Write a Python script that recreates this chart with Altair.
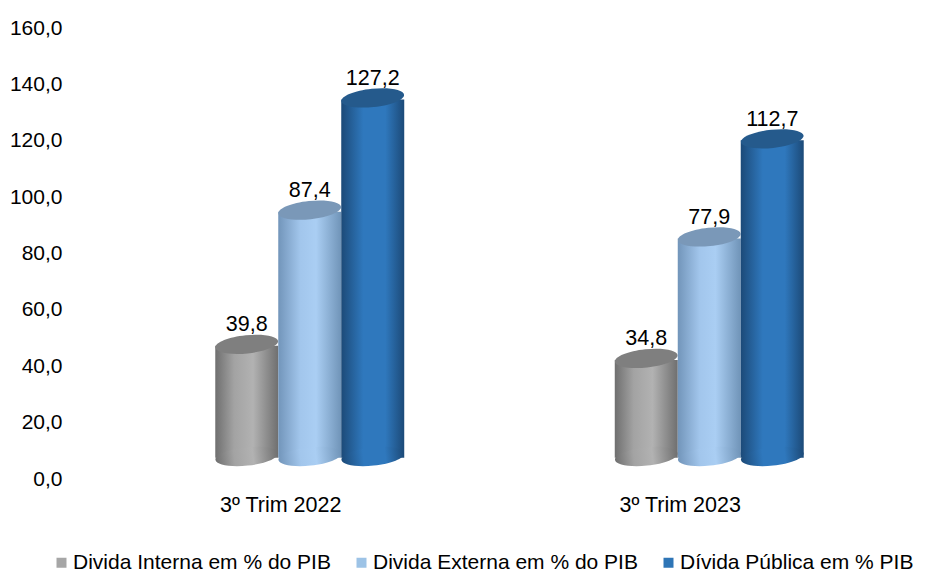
import altair as alt
import pandas as pd

periods = ["3º Trim 2022", "3º Trim 2023"]
series = ["Divida Interna em % do PIB", "Divida Externa em % do PIB", "Dívida Pública em % PIB"]
interna = [39.8, 34.8]
externa = [87.4, 77.9]
publica = [127.2, 112.7]
legend_colors = ["#a6a6a6", "#9dc3e6", "#2e75b6"]
side_stops = [
    [("#6f6f6f", 0), ("#a3a3a3", 0.3), ("#b2b2b2", 0.6), ("#6f6f6f", 1)],
    [("#7295ba", 0), ("#a2c6ec", 0.35), ("#aacef3", 0.6), ("#7094b8", 1)],
    [("#1c4a78", 0), ("#2f78bd", 0.35), ("#2f78bd", 0.7), ("#1c4a78", 1)],
]
top_colors = ["#7f7f7f", "#7a98b8", "#255a8c"]

FONT = "Liberation Sans"
rows = []
for s, vals in zip(series, [interna, externa, publica]):
    for p, v in zip(periods, vals):
        rows.append({"period": p, "series": s, "value": v})
df = pd.DataFrame(rows)

ellipse = "M-1,0 A1,0.29 0 1 1 1,0 A1,0.29 0 1 1 -1,0 Z"
LIFT = -22.5
TILT = 354
DIAM = 63

x = alt.X("period:N", sort=periods, title=None,
          scale=alt.Scale(domain=periods, paddingInner=0.527, paddingOuter=0.2635),
          axis=alt.Axis(labelAngle=0, labelOffset=-29, labelPadding=15, domain=False, ticks=False,
                        grid=False, labelFont=FONT, labelFontSize=21.5, labelColor="#000"))
xo = alt.XOffset("series:N", sort=series, scale=alt.Scale(domain=series, paddingInner=0, paddingOuter=0))
y = alt.Y("value:Q", title=None,
          scale=alt.Scale(domain=[0, 160], nice=False, zero=True),
          axis=alt.Axis(values=list(range(0, 161, 20)), labelExpr="replace(format(datum.value,'.1f'),'.',',')",
                        domain=False, ticks=False, grid=False, labelPadding=48,
                        labelFont=FONT, labelFontSize=21, labelColor="#000"))

base = alt.Chart(df).encode(x=x, xOffset=xo)
layers = []
for s, stops, top in zip(series, side_stops, top_colors):
    grad = alt.LinearGradient(gradient="linear",
                              stops=[alt.GradientStop(color=c, offset=o) for c, o in stops],
                              x1=0, x2=1, y1=0, y2=0)
    sub = base.transform_filter(alt.datum.series == s)
    layers.append(sub.mark_bar(fill=grad, yOffset=LIFT + 1.5, y2Offset=LIFT + 1.2).encode(
        y=y, y2=alt.datum(0)))
    layers.append(sub.mark_point(shape=ellipse, size=DIAM ** 2, filled=True, fill=grad, opacity=1,
                                 strokeWidth=0, angle=TILT, yOffset=LIFT).encode(y=alt.datum(0)))
    layers.append(sub.mark_point(shape=ellipse, size=DIAM ** 2, filled=True, fill=top, opacity=1,
                                 strokeWidth=0, angle=TILT, yOffset=LIFT).encode(y=y))

labels = base.transform_calculate(label="replace(format(datum.value,'.1f'),'.',',')").mark_text(
    font=FONT, fontSize=21.5, color="#000", baseline="alphabetic", yOffset=LIFT - 13
).encode(y=y, text="label:N")

legend = alt.Chart(df).mark_square(size=0, opacity=1).encode(
    color=alt.Color("series:N", sort=series, title=None,
                    scale=alt.Scale(domain=series, range=legend_colors),
                    legend=alt.Legend(orient="none", legendX=-59, legendY=524, direction="horizontal",
                                      columns=3, gridAlign="each", columnPadding=20, symbolType="square",
                                      symbolSize=100, symbolStrokeWidth=0, labelFont=FONT, labelFontSize=21,
                                      labelColor="#000", labelLimit=400, labelOffset=1))
)

chart = alt.layer(*layers, labels, legend).properties(
    width=799, height=451,
    autosize=alt.AutoSizeParams(type="none"),
    padding={"left": 102, "top": 20, "right": 11, "bottom": 94},
).configure_view(stroke=None)

chart.save("out.html", embed_options={"renderer": "svg", "actions": False})
